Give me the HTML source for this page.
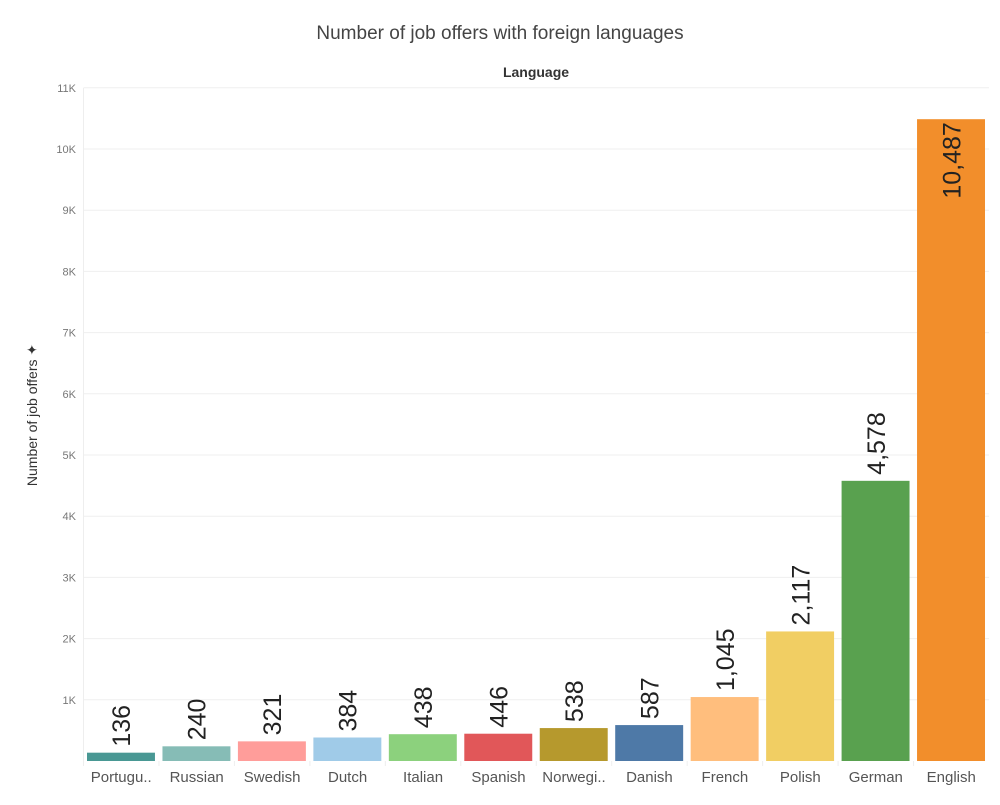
<!DOCTYPE html>
<html><head><meta charset="utf-8"><style>
body{margin:0;background:#fff;font-family:"Liberation Sans",sans-serif}
</style></head><body>
<svg id="c" width="1000" height="800" xmlns="http://www.w3.org/2000/svg">
<text x="500" y="39" text-anchor="middle" font-size="19" fill="#444">Number of job offers with foreign languages</text>
<text x="536" y="77" text-anchor="middle" font-size="14" font-weight="bold" fill="#333">Language</text>
<text transform="translate(37,415) rotate(-90)" text-anchor="middle" font-size="14" fill="#333">Number of job offers ✦</text>
<g id="g"></g>
</svg>
<script>
const categories=["Portugu..","Russian","Swedish","Dutch","Italian","Spanish","Norwegi..","Danish","French","Polish","German","English"];
const values=[136,240,321,384,438,446,538,587,1045,2117,4578,10487];
const valueLabels=["136","240","321","384","438","446","538","587","1,045","2,117","4,578","10,487"];
const colors=["#499894","#86bcb6","#ff9d9a","#a0cbe8","#8cd17d","#e15759","#b6992d","#4e79a7","#ffbe7d","#f1ce63","#59a14f","#f28e2b"];
const yTicks=[1000,2000,3000,4000,5000,6000,7000,8000,9000,10000,11000];
const yTickLabels=["1K","2K","3K","4K","5K","6K","7K","8K","9K","10K","11K"];
const NS="http://www.w3.org/2000/svg";
const g=document.getElementById('g');
const L=83.5,R=989,Y0=761,PPK=61.2;
const y=v=>Y0-v/1000*PPK;
const step=(R-L)/categories.length;
const x=i=>L+i*step;
function mk(t,a){const e=document.createElementNS(NS,t);for(const k in a)e.setAttribute(k,a[k]);g.appendChild(e);return e;}
const ax=mk('line',{x1:L,x2:L,y1:88,y2:766,stroke:'#eee'});


yTicks.forEach((t,i)=>{
 const l=mk('line',{x1:L,x2:R,y1:y(t),y2:y(t),stroke:'#efefef'});
 
 
 const tx=mk('text',{x:76,y:y(t)+4,'text-anchor':'end','font-size':11,fill:'#777'});
 tx.textContent=yTickLabels[i];
 
 
});
categories.forEach((c,i)=>{
 const top=y(values[i]);
 const r=mk('rect',{x:x(i)+3.5,y:top,width:step-7.5,height:Y0-top,fill:colors[i]});
 
 
 const inside=top<200;
 const lx=x(i)+step/2+9, ly=inside?top+3:top-6;
 const t=mk('text',{transform:`translate(${lx},${ly}) rotate(-90)`,'text-anchor':inside?'end':'start','font-size':25,fill:'#222'});
 t.textContent=valueLabels[i];
 
 
 const cl=mk('text',{x:x(i)+step/2,y:782,'text-anchor':'middle','font-size':15,fill:'#555'});
 cl.textContent=c;
 
 
 if(i>0){const s=mk('line',{x1:x(i),x2:x(i),y1:761,y2:766,stroke:'#eee'});
 
 }
});
</script>
</body></html>
